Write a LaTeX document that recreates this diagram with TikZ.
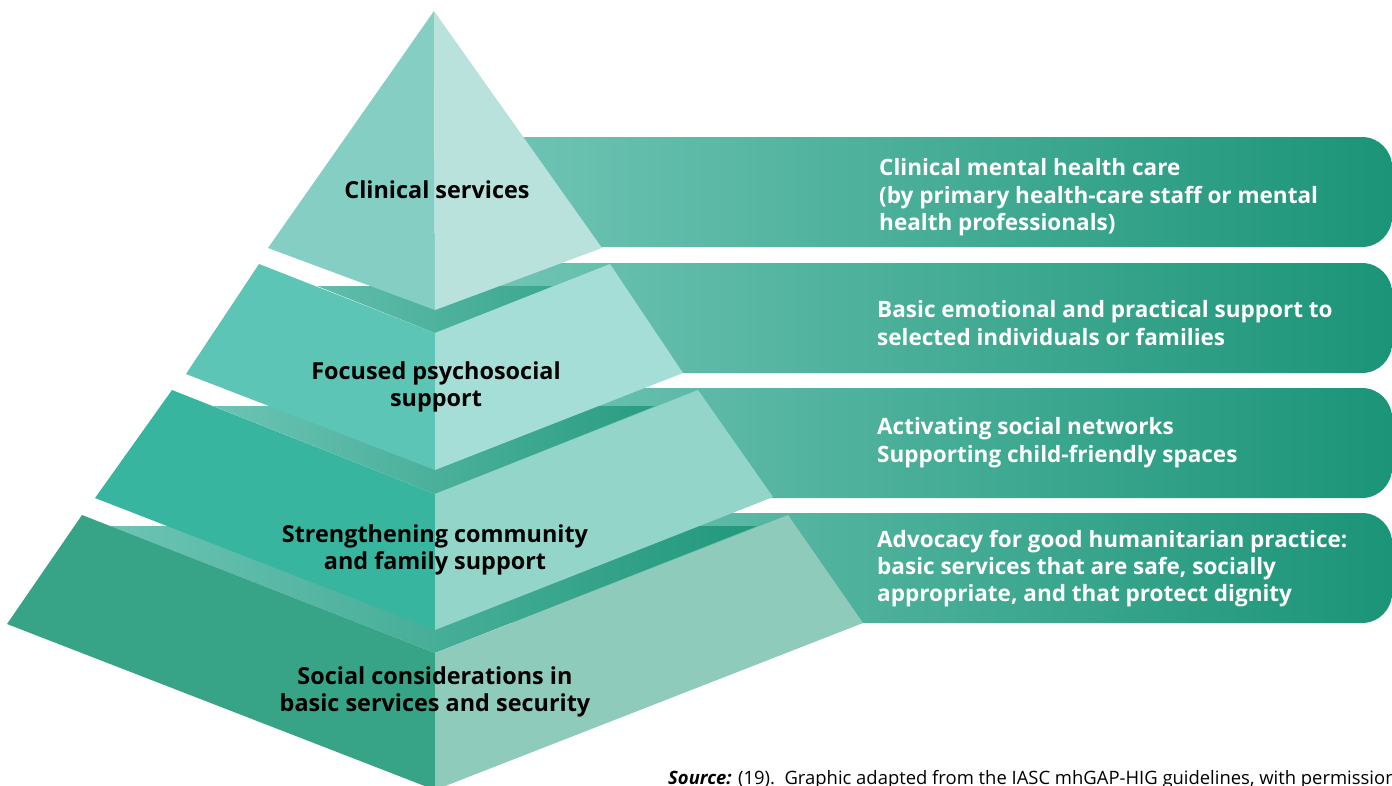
\documentclass[tikz,border=0pt]{standalone}
\usepackage{fontspec}
\setmainfont{Open Sans}
\usetikzlibrary{shadings}

\definecolor{tierAl}{HTML}{84CEC4}
\definecolor{tierAr}{HTML}{B9E2DD}
\definecolor{tierBl}{HTML}{5CC5B5}
\definecolor{tierBr}{HTML}{A5DED6}
\definecolor{tierCl}{HTML}{38B59F}
\definecolor{tierCr}{HTML}{93D6C9}
\definecolor{tierDl}{HTML}{37A387}
\definecolor{tierDr}{HTML}{8FCBBB}
\definecolor{faceL}{HTML}{6CC4B4}
\definecolor{faceR}{HTML}{22987C}
\definecolor{bandL}{HTML}{76C8B9}
\definecolor{bandR}{HTML}{1B9477}

\begin{document}
\begin{tikzpicture}[x=1bp,y=-1bp,
  tierlabel/.style={font=\fontsize{23.5}{27}\selectfont\bfseries,text=black,align=center},
  bandlabel/.style={font=\fontsize{22.6}{27.5}\selectfont\bfseries,text=white,align=left,anchor=west,inner sep=0pt}]
\useasboundingbox (0,0) rectangle (1392,785);

% bands behind the pyramid
\foreach \y in {137,263,388,513}
  \shade[left color=bandL,right color=bandR] (435,\y) -- (1362,\y) arc(-90:0:30) -- (1392,\y+80) arc(0:90:30) -- (435,\y+110) -- cycle;

% top faces of the slabs
\shade[left color=faceL!85!faceR,right color=faceL!35!faceR] (317,286) -- (553,286) -- (435,333) -- cycle;
\shade[left color=faceL,right color=faceR!90!faceL] (213,406) -- (655,406) -- (435,494) -- cycle;
\shade[left color=faceL,right color=faceR] (110,526) -- (757,526) -- (435,653) -- cycle;

% tiers, left and right halves
\fill[tierAl] (434,11) -- (268,248) -- (435,310) -- cycle;
\fill[tierAr] (434,11) -- (602,248) -- (435,310) -- cycle;
\fill[tierBl] (259,264) -- (435,333) -- (435,470) -- (186,374) -- cycle;
\fill[tierBr] (610,264) -- (435,333) -- (435,470) -- (683,373) -- cycle;
\fill[tierCl] (172,390) -- (435,494) -- (435,630) -- (95,498) -- cycle;
\fill[tierCr] (698,390) -- (435,494) -- (435,630) -- (773,497) -- cycle;
\fill[tierDl] (82,515) -- (435,653) -- (435,790) -- (7,624) -- cycle;
\fill[tierDr] (788,515) -- (435,653) -- (435,790) -- (863,623) -- cycle;

% labels on the pyramid
\node[tierlabel] (clinical) at (437,190) {Clinical services};
\node[tierlabel] (focused) at (436,387) {Focused psychosocial\\support};
\node[tierlabel] (community) at (435,550) {Strengthening community\\and family support};
\node[tierlabel] (social) at (435,691.5) {Social considerations in\\basic services and security};

% labels on the bands
\node[bandlabel] (care) at (879,197.5) {Clinical mental health care\\(by primary health-care staff or mental\\health professionals)};
\node[bandlabel] (emotional) at (877,323) {Basic emotional and practical support to\\selected individuals or families};
\node[bandlabel] (networks) at (877,442.5) {Activating social networks\\Supporting child-friendly spaces};
\node[bandlabel] (advocacy) at (877,568.5) {Advocacy for good humanitarian practice:\\basic services that are safe, socially\\appropriate, and that protect dignity};

% source line, cut by the page edge
\begin{scope}
\clip (0,0) rectangle (1392,785);
\node[anchor=base west,inner sep=0pt,font=\fontsize{18.5}{20}\selectfont,text=black] (source) at (668,784) {\textbf{\textit{Source:}} (19).\ \ Graphic adapted from the IASC mhGAP-HIG guidelines, with permission.};
\end{scope}
\end{tikzpicture}
\end{document}
